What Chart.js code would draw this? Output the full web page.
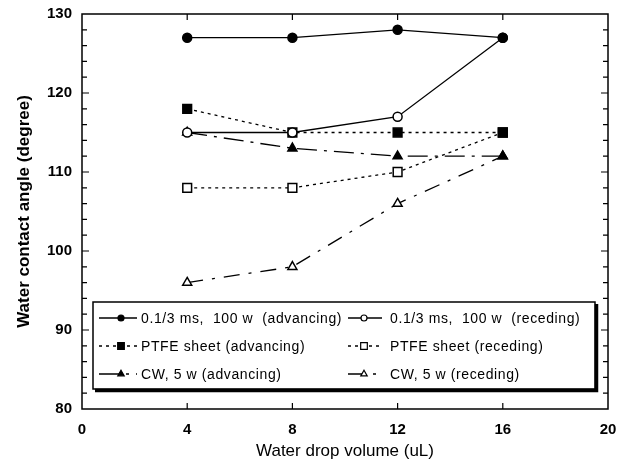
<!DOCTYPE html>
<html>
<head>
<meta charset="utf-8">
<script src="https://cdn.jsdelivr.net/npm/chart.js@4/dist/chart.umd.min.js"></script>
<style>
  body { margin: 0; background: #fff; }
  #c { display: block; }
</style>
</head>
<body>
<canvas id="c" width="621" height="466"></canvas>
<script>
// Wassertropfen-Volumen (uL)
const volumes = [4, 8, 12, 16];

// Kontaktwinkel je Serie
const pulsedAdv = [127, 127, 128, 127];
const pulsedRec = [115, 115, 117, 127];
const ptfeAdv = [118, 115, 115, 115];
const ptfeRec = [108, 108, 110, 115];
const cwAdv = [115, 113, 112, 112];
const cwRec = [96, 98, 106, 112];

const seriesLabels = [
  '0.1/3 ms,  100 w  (advancing)',
  '0.1/3 ms,  100 w  (receding)',
  'PTFE sheet (advancing)',
  'PTFE sheet (receding)',
  'CW, 5 w (advancing)',
  'CW, 5 w (receding)'
];

const xTicks = [0, 4, 8, 12, 16, 20];
const yTicks = [80, 90, 100, 110, 120, 130];

const FONT = '"Liberation Sans", Arial, sans-serif';

function pts(values) {
  return values.map((v, i) => ({ x: volumes[i], y: v }));
}

function series(label, values, style, filled, dash, radius) {
  return {
    label: label,
    data: pts(values),
    borderColor: '#000',
    borderWidth: 1.3,
    borderDash: dash,
    pointStyle: style,
    pointRadius: radius,
    pointBorderWidth: 1.5,
    pointBorderColor: '#000',
    pointBackgroundColor: filled ? '#000' : '#fff',
    tension: 0,
    fill: false
  };
}

const dotted = [3, 4];
const dashDotA = [20, 7, 3, 7];
const dashDotB = [16, 9, 3, 9];

// Rahmen und nach innen zeigende Striche
const frame = {
  id: 'frame',
  afterDatasetsDraw(chart) {
    const { ctx, chartArea: a, scales } = chart;
    ctx.save();
    ctx.strokeStyle = '#000';
    ctx.lineWidth = 1.5;
    ctx.setLineDash([]);
    ctx.strokeRect(a.left, a.top, a.right - a.left, a.bottom - a.top);
    ctx.lineWidth = 1.2;
    ctx.beginPath();
    for (let v = 82; v < 130; v += 2) {
      const y = scales.y.getPixelForValue(v);
      const len = v % 10 === 0 ? 7 : 5;
      ctx.moveTo(a.left, y); ctx.lineTo(a.left + len, y);
      ctx.moveTo(a.right, y); ctx.lineTo(a.right - len, y);
    }
    for (const v of volumes) {
      const x = scales.x.getPixelForValue(v);
      ctx.moveTo(x, a.bottom); ctx.lineTo(x, a.bottom - 6);
      ctx.moveTo(x, a.top); ctx.lineTo(x, a.top + 6);
    }
    ctx.stroke();
    ctx.restore();
  }
};

// Legende im Diagramm mit Schattenrahmen
const boxLegend = {
  id: 'boxLegend',
  afterDraw(chart) {
    const { ctx } = chart;
    const box = { l: 93, t: 302, r: 595, b: 389 };
    ctx.save();
    ctx.fillStyle = '#fff';
    ctx.fillRect(box.l, box.t, box.r - box.l, box.b - box.t);
    ctx.strokeStyle = '#000';
    ctx.setLineDash([]);
    ctx.lineWidth = 1.5;
    ctx.strokeRect(box.l, box.t, box.r - box.l, box.b - box.t);
    ctx.lineWidth = 3.5;
    ctx.beginPath();
    ctx.moveTo(box.l + 2, box.b + 1.5); ctx.lineTo(box.r + 1.5, box.b + 1.5);
    ctx.lineTo(box.r + 1.5, box.t + 2);
    ctx.stroke();

    const cols = [{ x0: 99, xm: 121, x1: 137, tx: 141 }, { x0: 348, xm: 364, x1: 382, tx: 390 }];
    const rows = [318, 346, 374];
    ctx.font = '14px ' + FONT;
    ctx.letterSpacing = '0.6px';
    ctx.textBaseline = 'middle';
    chart.data.datasets.forEach((ds, i) => {
      const c = cols[i % 2];
      const y = rows[Math.floor(i / 2)];
      ctx.strokeStyle = '#000';
      ctx.lineWidth = 1.3;
      ctx.setLineDash(ds.borderDash || []);
      ctx.beginPath();
      ctx.moveTo(c.x0, y); ctx.lineTo(c.x1, y);
      ctx.stroke();
      ctx.setLineDash([]);
      ctx.fillStyle = ds.pointBackgroundColor;
      ctx.strokeStyle = '#000';
      ctx.lineWidth = 1.2;
      Chart.helpers.drawPoint(ctx, {
        pointStyle: ds.pointStyle,
        rotation: 0,
        radius: ds.pointRadius - 1.5,
        borderWidth: 1.2
      }, c.xm, y);
      ctx.fillStyle = '#000';
      ctx.fillText(ds.label, c.tx, y + 1);
    });
    ctx.restore();
  }
};

new Chart(document.getElementById('c'), {
  type: 'line',
  data: {
    datasets: [
      series(seriesLabels[0], pulsedAdv, 'circle', true, [], 4.5),
      series(seriesLabels[1], pulsedRec, 'circle', false, [], 4.5),
      series(seriesLabels[2], ptfeAdv, 'rect', true, dotted, 6.2),
      series(seriesLabels[3], ptfeRec, 'rect', false, dotted, 6.2),
      series(seriesLabels[4], cwAdv, 'triangle', true, dashDotA, 5.2),
      series(seriesLabels[5], cwRec, 'triangle', false, dashDotB, 5.2)
    ]
  },
  options: {
    responsive: false,
    animation: false,
    devicePixelRatio: 1,
    layout: { padding: { top: 14, right: 13, left: 0, bottom: 0 } },
    plugins: { legend: { display: false }, tooltip: { enabled: false } },
    scales: {
      x: {
        type: 'linear',
        min: 0, max: 20,
        afterFit(s) { s.height = 57; s.paddingRight = 0; s.paddingLeft = 0; },
        afterBuildTicks(s) { s.ticks = xTicks.map(v => ({ value: v })); },
        grid: { display: false, drawTicks: false },
        border: { display: false },
        ticks: { color: '#000', padding: 12, font: { family: FONT, size: 15, weight: 'bold' } },
        title: { display: true, text: 'Water drop volume (uL)', color: '#000', padding: { top: 0 }, font: { family: FONT, size: 17 } }
      },
      y: {
        min: 80, max: 130,
        afterFit(s) { s.width = 82; s.paddingTop = 0; s.paddingBottom = 0; },
        afterBuildTicks(s) { s.ticks = yTicks.map(v => ({ value: v })); },
        grid: { display: false, drawTicks: false },
        border: { display: false },
        ticks: { color: '#000', padding: 10, font: { family: FONT, size: 15, weight: 'bold' } },
        title: { display: true, text: 'Water contact angle (degree)', color: '#000', padding: { top: 14, bottom: 4 }, font: { family: FONT, size: 17, weight: 'bold' } }
      }
    }
  },
  plugins: [frame, boxLegend]
});
</script>
</body>
</html>
